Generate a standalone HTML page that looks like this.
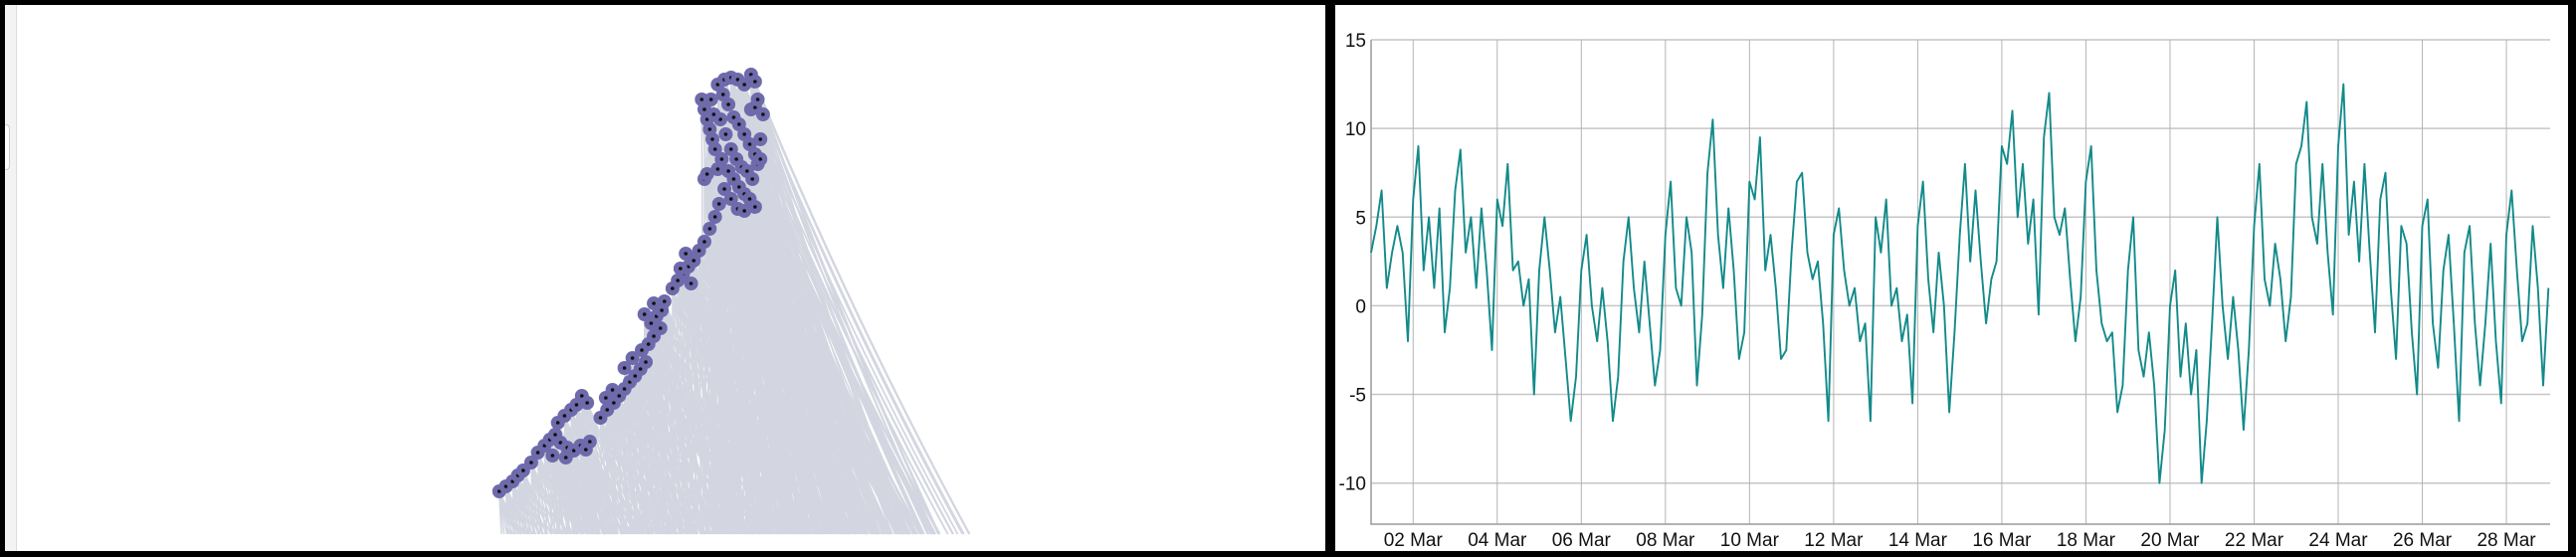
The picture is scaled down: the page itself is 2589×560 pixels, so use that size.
<!DOCTYPE html>
<html><head><meta charset="utf-8">
<style>
html,body{margin:0;padding:0;background:#000;}
body{width:2589px;height:560px;position:relative;overflow:hidden;font-family:"Liberation Sans",sans-serif;}
#left{position:absolute;left:5px;top:5px;width:1327px;height:549px;background:#fff;}
#right{position:absolute;left:1342px;top:5px;width:1239px;height:549px;background:#fff;}
</style></head>
<body>
<div id="left">
  <div style="position:absolute;left:0;top:0;width:11px;height:549px;background:#f3f3f3;border-right:1px solid #dcdcdc;"></div>
  <div style="position:absolute;left:0;top:120px;width:4px;height:44px;border:1px solid #ccc;border-left:none;border-radius:0 4px 4px 0;background:#fff;"></div>
</div>
<div id="right"></div>
<svg id="net" width="2589" height="560" style="position:absolute;left:0;top:0;pointer-events:none"></svg>
<svg id="ts" width="2589" height="560" style="position:absolute;left:0;top:0"></svg>
<script>
// ---------- network graph ----------
const nodeX = [476,481,486,490,494,500,505,510,514,518,522,527,532,537,541,544,526,516,520,525,530,534,538,542,552,557,562,566,570,574,578,582,586,570,576,583,588,592,597,556,561,590,594,598,592,600,585,606,610,614,618,622,626,630,634,638,641,620,612,616,630,632,628,630,632,634,636,638,635,640,645,650,655,660,644,648,652,656,660,664,668,670,672,665,668,670,665,668,642,646,650,654,658,662,648,652,656,660,664,668,655,660,666,640,643,637,674,672,645,650];
const nodeY = [494,489,484,478,473,465,455,448,442,437,445,450,453,448,452,444,460,458,425,418,412,407,398,405,420,412,405,398,391,384,378,371,364,370,360,352,346,338,330,400,392,325,318,312,305,303,316,290,282,275,268,262,252,243,230,218,205,285,270,255,180,175,100,110,120,130,140,150,100,85,80,78,80,85,95,105,118,125,135,145,155,165,160,110,108,100,75,82,120,135,150,160,168,172,172,180,188,195,200,208,210,212,180,170,160,115,115,140,190,200];
const baseY = 537;
const fanCount = 8;

const NS='http://www.w3.org/2000/svg';
const sx=v=>400+(v-400)*1.339;
const net=document.getElementById('net');
const gLines=document.createElementNS(NS,'g');


net.appendChild(gLines);
for(let i=0;i<nodeX.length;i++){
  const nx=sx(nodeX[i]), ny=nodeY[i];
  const span=(baseY-ny)*0.47;
  for(let k=0;k<fanCount;k++){
    const bx=Math.min(982,Math.max(504,nx+2+span*k/(fanCount-1)));
    const p=document.createElementNS(NS,'path');
    const cx=nx+(bx-nx)*0.45, cy=ny+(baseY-ny)*0.52;
    p.setAttribute('d',`M${nx},${ny} Q${cx},${cy} ${bx},${baseY}`);
    p.setAttribute('fill','none');p.setAttribute('stroke','#d3d6e0');p.setAttribute('stroke-width','1.6');
    
    
    gLines.appendChild(p);
  }
}
for(let i=0;i<nodeX.length;i++){
  const c=document.createElementNS(NS,'circle');
  c.setAttribute('cx',sx(nodeX[i]));c.setAttribute('cy',nodeY[i]);c.setAttribute('r','7');c.setAttribute('fill','#6e6aab');
  
  
  net.appendChild(c);
  const d=document.createElementNS(NS,'circle');
  d.setAttribute('cx',sx(nodeX[i]));d.setAttribute('cy',nodeY[i]);d.setAttribute('r','1.8');d.setAttribute('fill','#111');
  
  
  net.appendChild(d);
}

// ---------- time series ----------
const yTicks=[15,10,5,0,-5,-10];
const xTickDays=[1,3,5,7,9,11,13,15,17,19,21,23,25,27];
const xTickLabels=["02 Mar","04 Mar","06 Mar","08 Mar","10 Mar","12 Mar","14 Mar","16 Mar","18 Mar","20 Mar","22 Mar","24 Mar","26 Mar","28 Mar"];
const stepHours=3;
const values=[
3,4.5,6.5,1,3,4.5,3,-2,
6,9,2,5,1,5.5,-1.5,1,
6.5,8.8,3,5,1,5.5,2,-2.5,
6,4.5,8,2,2.5,0,1.5,-5,
2,5,2,-1.5,0.5,-3,-6.5,-4,
2,4,0,-2,1,-2,-6.5,-4,
2.5,5,1,-1.5,2.5,-1,-4.5,-2.5,
4,7,1,0,5,3,-4.5,-0.5,
7.5,10.5,4,1,5.5,2,-3,-1.5,
7,6,9.5,2,4,1,-3,-2.5,
3,7,7.5,3,1.5,2.5,-1,-6.5,
4,5.5,2,0,1,-2,-1,-6.5,
5,3,6,0,1,-2,-0.5,-5.5,
4.5,7,1.5,-1.5,3,0,-6,-1.5,
4,8,2.5,6.5,2.5,-1,1.5,2.5,
9,8,11,5,8,3.5,6,-0.5,
9.5,12,5,4,5.5,1.5,-2,0.5,
7,9,2,-1,-2,-1.5,-6,-4.5,
2,5,-2.5,-4,-1.5,-4.5,-10,-7,
0,2,-4,-1,-5,-2.5,-10,-6.5,
-1,5,0,-3,0.5,-2.5,-7,-2.5,
4.5,8,1.5,0,3.5,1.5,-2,0.5,
8,9,11.5,5,3.5,8,3,-0.5,
9,12.5,4,7,2.5,8,3,-1.5,
6,7.5,1,-3,4.5,3.5,-1.5,-5,
4.5,6,-1,-3.5,2,4,-1,-6.5,
3,4.5,-1,-4.5,-1,3.5,-2,-5.5,
4,6.5,2,-2,-1,4.5,1,-4.5,
1];

const L=1378,R=2563,T=40,B=527;
const dayMax=28.04;
const x=d=>L+(d/dayMax)*(R-L);
const y=v=>T+(15-v)*(485.7-40)/25;
const ts=document.getElementById('ts');
function el(tag,attrs){
  const e=document.createElementNS(NS,tag);
  for(const k in attrs)e.setAttribute(k,attrs[k]);
  ts.appendChild(e);return e;
}
yTicks.forEach(v=>{
  const l=el('line',{x1:L,x2:R,y1:y(v),y2:y(v),stroke:'#c6c6c6','stroke-width':'1.5'});
  
  
  const t=el('text',{x:L-5,y:y(v)+7,'text-anchor':'end','font-size':'19',fill:'#111','font-family':'Liberation Sans, sans-serif'});
  t.textContent=v;
  
  
});
xTickDays.forEach((d,i)=>{
  const l=el('line',{x1:x(d),x2:x(d),y1:T,y2:B,stroke:'#b4b4b4','stroke-width':'1'});
  
  
  const t=el('text',{x:x(d),y:549,'text-anchor':'middle','font-size':'19',fill:'#111','font-family':'Liberation Sans, sans-serif'});
  t.textContent=xTickLabels[i];
  
  
});
const ax=el('path',{d:`M${L},${T} V${B} H${R}`,fill:'none',stroke:'#9a9a9a','stroke-width':'1.5'});


let d='';
values.forEach((v,i)=>{d+=(i?'L':'M')+x(i*stepHours/24).toFixed(1)+','+y(v).toFixed(1);});
const line=el('path',{d:d,fill:'none',stroke:'#138a8a','stroke-width':'1.9','stroke-linejoin':'round'});


</script>
</body></html>
